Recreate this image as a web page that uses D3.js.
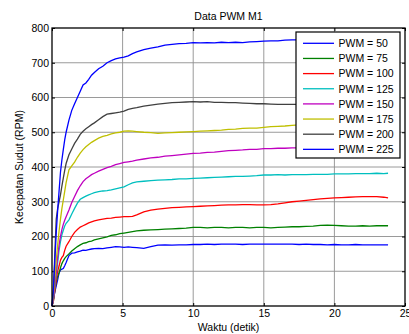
<!DOCTYPE html>
<html>
<head>
<meta charset="utf-8">
<script src="https://cdn.jsdelivr.net/npm/d3@7"></script>
<style>
  body { margin: 0; background: #fff; }
  svg { display: block; font-family: 'Liberation Sans', Arial, sans-serif; }
</style>
</head>
<body>
<svg id="chart" width="409" height="334"></svg>
<script>
'use strict';
// time samples (detik)
const TIME = [
  0, 0.1, 0.2, 0.3, 0.4, 0.5, 0.6, 0.7, 0.8, 0.9,
  1.0, 1.2, 1.4, 1.6, 1.8, 2.0, 2.2, 2.4, 2.6, 2.8,
  3.0, 3.3, 3.6, 3.9, 4.2, 4.5, 4.8, 5.1, 5.4, 5.7,
  6.0, 6.5, 7.0, 7.5, 8.0, 8.5, 9.0, 9.5, 10, 10.5,
  11, 11.5, 12, 12.5, 13, 13.5, 14, 14.5, 15, 15.5,
  16, 16.5, 17, 17.5, 18, 18.5, 19, 19.5, 20, 20.5,
  21, 21.5, 22, 22.5, 23, 23.5, 23.8,
];
const PWM_50 = [
  0, 20, 40, 58, 75, 95, 104, 106, 108, 116,
  125, 145, 152, 153, 156, 158, 161, 160, 162, 164,
  165, 166, 165, 167, 169, 171, 170, 169, 170, 169,
  168, 166, 171, 175, 176, 175, 176, 176, 177, 177,
  178, 177, 178, 178, 178, 177, 178, 178, 178, 178,
  178, 178, 178, 177, 178, 177, 177, 176, 177, 176,
  176, 177, 176, 176, 176, 176, 176,
];
const PWM_75 = [
  0, 15, 45, 68, 85, 95, 110, 122, 130, 137,
  142, 150, 158, 165, 171, 176, 180, 182, 185, 187,
  190, 193, 196, 199, 203, 205, 208, 210, 212, 214,
  216, 218, 219, 220, 221, 222, 223, 224, 226, 226,
  225, 226, 226, 225, 226, 226, 225, 226, 226, 225,
  226, 227, 228, 228, 229, 230, 232, 233, 232, 231,
  230, 230, 231, 230, 231, 231, 231,
];
const PWM_100 = [
  0, 15, 45, 75, 100, 115, 132, 140, 145, 160,
  172, 185, 200, 212, 220, 227, 231, 235, 239, 242,
  245, 248, 250, 252, 253, 255, 256, 257, 257, 258,
  262, 271, 276, 279, 281, 283, 284, 285, 286, 287,
  288, 289, 290, 291, 291, 292, 292, 291, 291, 292,
  294, 297, 300, 302, 304, 306, 308, 310, 311, 312,
  313, 314, 315, 315, 315, 313, 311,
];
const PWM_125 = [
  0, 20, 55, 90, 125, 160, 185, 205, 218, 230,
  238, 248, 265, 281, 296, 307, 312, 316, 320, 323,
  326, 329, 331, 332, 334, 337, 340, 343, 349, 354,
  357, 359, 361, 362, 363, 364, 366, 366, 367, 368,
  369, 370, 371, 372, 373, 373, 374, 375, 377, 377,
  378, 377, 378, 378, 378, 379, 379, 379, 380, 380,
  380, 381, 381, 381, 382, 381, 382,
];
const PWM_150 = [
  0, 20, 60, 100, 140, 175, 200, 220, 235, 247,
  257, 276, 298, 315, 332, 346, 358, 366, 372, 378,
  382, 388, 393, 398, 402, 407, 410, 413, 415, 417,
  420, 423, 426, 428, 431, 433, 435, 437, 439, 440,
  442, 443, 445, 447, 448, 449, 451, 451, 453, 453,
  454, 454, 455, 455, 456, 456, 456, 457, 457, 457,
  457, 458, 458, 458, 458, 459, 459,
];
const PWM_175 = [
  0, 30, 80, 130, 175, 215, 250, 280, 305, 330,
  355, 392, 403, 414, 428, 440, 450, 458, 465, 471,
  476, 483, 488, 491, 495, 498, 500, 503, 504, 503,
  502, 500, 499, 497, 498, 499, 500, 501, 502, 503,
  504, 505, 506, 508, 509, 511, 512, 512, 514, 516,
  517, 518, 520, 521, 522, 523, 523, 524, 524, 525,
  525, 525, 526, 526, 526, 527, 527,
];
const PWM_200 = [
  0, 45, 150, 250, 280, 300, 320, 345, 368, 390,
  410, 435, 452, 468, 480, 494, 503, 510, 516, 522,
  527, 536, 545, 552, 554, 556, 558, 561, 566, 569,
  571, 575, 578, 581, 583, 585, 586, 587, 588, 587,
  588, 586, 586, 585, 585, 584, 583, 582, 582, 581,
  580, 580, 580, 580, 579, 579, 580, 579, 579, 578,
  579, 578, 578, 579, 578, 578, 578,
];
const PWM_225 = [
  0, 50, 130, 210, 275, 330, 385, 420, 450, 478,
  500, 535, 563, 582, 600, 618, 636, 642, 652, 664,
  672, 683, 690, 700, 706, 711, 714, 716, 720, 726,
  731, 738, 742, 746, 751, 753, 755, 756, 758, 757,
  758, 757, 759, 758, 759, 758, 760, 761, 762, 763,
  763, 765, 766, 766, 767, 767, 768, 767, 768, 769,
  768, 769, 770, 769, 770, 770, 771,
];
const SERIES = [PWM_50, PWM_75, PWM_100, PWM_125, PWM_150, PWM_175, PWM_200, PWM_225];
const LABELS = ['PWM = 50', 'PWM = 75', 'PWM = 100', 'PWM = 125', 'PWM = 150', 'PWM = 175', 'PWM = 200', 'PWM = 225'];
const COLORS = ['#0000ff', '#008000', '#ff0000', '#00bfbf', '#bf00bf', '#bfbf00', '#404040', '#0000ff'];
const X_TICKS = [0, 5, 10, 15, 20, 25];
const Y_TICKS = [0, 100, 200, 300, 400, 500, 600, 700, 800];

drawChart();

function drawChart() {
  const svg = d3.select('#chart');
  const margin = { top: 28, right: 4, bottom: 28, left: 52 };
  const width = 409, height = 334;
  const fontSize = '10.5px';

  const x = d3.scaleLinear().domain([0, 25]).range([margin.left, width - margin.right]);
  const y = d3.scaleLinear().domain([0, 800]).range([height - margin.bottom, margin.top]);
  const [x0, x1] = x.range();
  const [y0, y1] = y.range();

  // grid
  const grid = svg.append('g').attr('stroke', '#8f8f8f').attr('stroke-width', 0.9);
  grid.selectAll('.vgrid')
    .data(X_TICKS.slice(1, -1))
    .enter().append('line')
    .attr('x1', (d) => x(d)).attr('x2', (d) => x(d))
    .attr('y1', y1).attr('y2', y0);
  grid.selectAll('.hgrid')
    .data(Y_TICKS.slice(1, -1))
    .enter().append('line')
    .attr('x1', x0).attr('x2', x1)
    .attr('y1', (d) => y(d)).attr('y2', (d) => y(d));

  // axes (ticks inward on all four sides)
  let styleAxis = (g) =>
    g.call((g) => g.select('.domain').remove())
      .call((g) => g.selectAll('.tick line').attr('stroke', '#000'))
      .call((g) => g.selectAll('.tick text')
        .attr('fill', '#000')
        .style('font-size', fontSize)
        .style('font-family', "'Liberation Sans', Arial, sans-serif"));

  svg.append('g')
    .attr('transform', `translate(0,${y0})`)
    .call(d3.axisBottom(x).tickValues(X_TICKS).tickSize(-3).tickSizeOuter(0).tickPadding(4))
    .call(styleAxis);
  svg.append('g')
    .attr('transform', `translate(0,${y1})`)
    .call(d3.axisTop(x).tickValues(X_TICKS).tickSize(-3).tickSizeOuter(0).tickFormat(''))
    .call(styleAxis);
  svg.append('g')
    .attr('transform', `translate(${x0},0)`)
    .call(d3.axisLeft(y).tickValues(Y_TICKS).tickSize(-3).tickSizeOuter(0).tickPadding(3))
    .call(styleAxis);
  svg.append('g')
    .attr('transform', `translate(${x1},0)`)
    .call(d3.axisRight(y).tickValues(Y_TICKS).tickSize(-3).tickSizeOuter(0).tickFormat(''))
    .call(styleAxis);

  // data lines
  let line = d3.line()
    .x((d) => x(d[0]))
    .y((d) => y(d[1]));

  svg.append('g')
    .selectAll('path')
    .data(SERIES)
    .enter()
    .append('path')
    .attr('fill', 'none')
    .attr('stroke', (d, i) => COLORS[i])
    .attr('stroke-width', 1.3)
    .attr('d', (d) => line(d.map((v, i) => [TIME[i], v])));

  // axes box
  svg.append('rect')
    .attr('x', x0).attr('y', y1)
    .attr('width', x1 - x0).attr('height', y0 - y1)
    .attr('fill', 'none')
    .attr('stroke', '#000')
    .attr('stroke-width', 1.3);

  // titles
  svg.append('text')
    .attr('x', (x0 + x1) / 2).attr('y', 19.5)
    .attr('text-anchor', 'middle')
    .style('font-size', fontSize)
    .text('Data PWM M1');
  svg.append('text')
    .attr('x', (x0 + x1) / 2).attr('y', 331)
    .attr('text-anchor', 'middle')
    .style('font-size', fontSize)
    .text('Waktu (detik)');
  svg.append('text')
    .attr('transform', `translate(22.5,${(y0 + y1) / 2}) rotate(-90)`)
    .attr('text-anchor', 'middle')
    .style('font-size', fontSize)
    .text('Kecepatan Sudut (RPM)');

  // legend
  const legend = svg.append('g').attr('transform', 'translate(296,32)');
  legend.append('rect')
    .attr('width', 104).attr('height', 126)
    .attr('fill', '#fff')
    .attr('stroke', '#000')
    .attr('stroke-width', 1.2);
  let rows = legend.selectAll('.row')
    .data(LABELS)
    .enter().append('g')
    .attr('transform', (d, i) => `translate(0,${11.3 + i * 15.15})`);
  rows.append('line')
    .attr('x1', 7).attr('x2', 38)
    .attr('stroke', (d, i) => COLORS[i])
    .attr('stroke-width', 1.3);
  rows.append('text')
    .attr('x', 42.5).attr('dy', '0.36em')
    .style('font-size', fontSize)
    .text((d) => d);
}
</script>
</body>
</html>
